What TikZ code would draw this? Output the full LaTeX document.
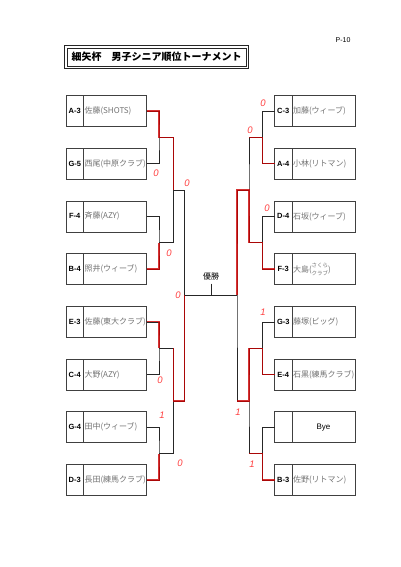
\documentclass[tikz,border=0pt]{standalone}
\usepackage{fontspec}
\setmainfont{Liberation Sans}
\newfontfamily\jp{Noto Sans CJK JP}
\usepackage{xcolor}
\usetikzlibrary{positioning,calc}

\begin{document}
\begin{tikzpicture}[x=1pt,y=-1pt,
		seedbox/.style={draw=black!75,line width=0.5pt,minimum width=17.5pt,minimum height=31pt,inner sep=0pt,outer sep=0pt,font=\bfseries\fontsize{7.5}{8}\selectfont},
		entrant/.style={draw=black!75,line width=0.5pt,minimum width=63pt,minimum height=31pt,text width=61pt,inner xsep=1pt,inner ysep=0pt,outer sep=0pt,align=left,font=\jp\fontsize{8}{8}\selectfont,text=black!55},
		bline/.style={black!85,line width=0.6pt},
		rline/.style={red!80!black,line width=1.3pt,opacity=0.8},
		score/.style={text=red!75,font=\itshape\fontsize{9.5}{9.5}\selectfont,inner sep=0pt}]
		\useasboundingbox (0,0) rectangle (400,567);
		\fill[white] (0,0) rectangle (400,567);

		% title
		\node[minimum width=183pt,minimum height=22pt,inner sep=0pt,font=\jp\bfseries\fontsize{10}{10}\selectfont] (title) at (156.5,57) {細矢杯　男子シニア順位トーナメント};
		\draw[black!85,line width=0.9pt] (title.north west) rectangle (title.south east);
		\draw[black!85,line width=0.5pt] ($(title.north west)+(2,2)$) rectangle ($(title.south east)+(-2,-2)$);
		\node[font=\fontsize{7}{7}\selectfont] (page) at (343,40) {P-10};

		% left entrants
		\node[seedbox] (ls1) at (74.75,111) {A-3};
		\node[entrant,right=0pt of ls1] (l1) {\mbox{佐藤(SHOTS)}};
		\node[seedbox] (ls2) at (74.75,163.7) {G-5};
		\node[entrant,right=0pt of ls2] (l2) {\mbox{西尾(中原クラブ)}};
		\node[seedbox] (ls3) at (74.75,216.4) {F-4};
		\node[entrant,right=0pt of ls3] (l3) {\mbox{斉藤(AZY)}};
		\node[seedbox] (ls4) at (74.75,269.1) {B-4};
		\node[entrant,right=0pt of ls4] (l4) {\mbox{照井(ウィーブ)}};
		\node[seedbox] (ls5) at (74.75,321.8) {E-3};
		\node[entrant,right=0pt of ls5] (l5) {\mbox{佐藤(東大クラブ)}};
		\node[seedbox] (ls6) at (74.75,374.5) {C-4};
		\node[entrant,right=0pt of ls6] (l6) {\mbox{大野(AZY)}};
		\node[seedbox] (ls7) at (74.75,427.2) {G-4};
		\node[entrant,right=0pt of ls7] (l7) {\mbox{田中(ウィーブ)}};
		\node[seedbox] (ls8) at (74.75,479.9) {D-3};
		\node[entrant,right=0pt of ls8] (l8) {\mbox{長田(練馬クラブ)}};

		% right entrants
		\node[seedbox] (rs1) at (283.25,111) {C-3};
		\node[entrant,right=0pt of rs1] (r1) {\mbox{加藤(ウィーブ)}};
		\node[seedbox] (rs2) at (283.25,163.7) {A-4};
		\node[entrant,right=0pt of rs2] (r2) {\mbox{小林(リトマン)}};
		\node[seedbox] (rs3) at (283.25,216.4) {D-4};
		\node[entrant,right=0pt of rs3] (r3) {\mbox{石坂(ウィーブ)}};
		\node[seedbox] (rs4) at (283.25,269.1) {F-3};
		\node[entrant,right=0pt of rs4] (r4) {\mbox{大島(\raisebox{-2.6pt}{\fontsize{5.5}{6}\selectfont\shortstack{さくら\\クラブ}})}};
		\node[seedbox] (rs5) at (283.25,321.8) {G-3};
		\node[entrant,right=0pt of rs5] (r5) {\mbox{藤塚(ビッグ)}};
		\node[seedbox] (rs6) at (283.25,374.5) {E-4};
		\node[entrant,right=0pt of rs6] (r6) {\mbox{石黒(練馬クラブ)}};
		\node[seedbox] (rs7) at (283.25,427.2) {};
		\node[entrant,right=0pt of rs7,align=center,text=black,font=\fontsize{8}{8}\selectfont] (r7) {Bye};
		\node[seedbox] (rs8) at (283.25,479.9) {B-3};
		\node[entrant,right=0pt of rs8] (r8) {\mbox{佐野(リトマン)}};

		% bracket points
		\coordinate (la1) at ($(l1.east)!.5!(l2.east)+(12.5,0)$);
		\coordinate (la2) at ($(l3.east)!.5!(l4.east)+(12.5,0)$);
		\coordinate (la3) at ($(l5.east)!.5!(l6.east)+(12.5,0)$);
		\coordinate (la4) at ($(l7.east)!.5!(l8.east)+(12.5,0)$);
		\coordinate (lb1) at ($(la1)!.5!(la2)+(14.5,0)$);
		\coordinate (lb2) at ($(la3)!.5!(la4)+(14.5,0)$);
		\coordinate (lc) at ($(lb1)!.5!(lb2)+(11,0)$);
		\coordinate (ra1) at ($(rs1.west)!.5!(rs2.west)+(-12,0)$);
		\coordinate (ra2) at ($(rs3.west)!.5!(rs4.west)+(-12,0)$);
		\coordinate (ra3) at ($(rs5.west)!.5!(rs6.west)+(-12,0)$);
		\coordinate (ra4) at ($(rs7.west)!.5!(rs8.west)+(-12,0)$);
		\coordinate (rb1) at ($(ra1)!.5!(ra2)+(-13.5,0)$);
		\coordinate (rb2) at ($(ra3)!.5!(ra4)+(-13.5,0)$);
		\coordinate (rc) at ($(rb1)!.5!(rb2)+(-12,0)$);

		% black bracket
		\draw[bline] (l1.east) -| (la1) |- (l2.east);
		\draw[bline] (l3.east) -| (la2) |- (l4.east);
		\draw[bline] (l5.east) -| (la3) |- (l6.east);
		\draw[bline] (l7.east) -| (la4) |- (l8.east);
		\draw[bline] (la1) -| (lb1) |- (la2);
		\draw[bline] (la3) -| (lb2) |- (la4);
		\draw[bline] (lb1) -| (lc) |- (lb2);
		\draw[bline] (rs1.west) -| (ra1) |- (rs2.west);
		\draw[bline] (rs3.west) -| (ra2) |- (rs4.west);
		\draw[bline] (rs5.west) -| (ra3) |- (rs6.west);
		\draw[bline] (rs7.west) -| (ra4) |- (rs8.west);
		\draw[bline] (ra1) -| (rb1) |- (ra2);
		\draw[bline] (ra3) -| (rb2) |- (ra4);
		\draw[bline] (rb1) -| (rc) |- (rb2);
		\draw[bline] (lc) -- (lc -| rc);

		% final
		\node[font=\jp\fontsize{8}{8}\selectfont] (champ) at (211,276) {優勝};
		\coordinate (champtop) at (211,283.5);
		\draw[bline] (champtop) -- (champtop |- lc);

		% winners in red
		\draw[rline] (l1.east) -| (la1) -- (la1 -| lb1) -- (lb1);
		\draw[rline] (l4.east) -| (la2);
		\draw[rline] (l5.east) -| (la3);
		\draw[rline] (la3 -| lb2) -- (lb2) -- (lb2 -| lc) -- (lc);
		\draw[rline] (l8.east) -| (la4);
		\draw[rline] (rs2.west) -| (ra1) -- (ra1 -| rb1);
		\draw[rline] (rs4.west) -| (ra2) -- (ra2 -| rb1) -- (rb1) -- (rb1 -| rc) -- (rc);
		\draw[rline] (rs6.west) -| (ra3) -- (ra3 -| rb2) -- (rb2) -- (rb2 -| rc);
		\draw[rline] (rs8.west) -| (ra4) -- (ra4 -| rb2);

		% scores
		\node[score] (sl1) at (156,173) {0};
		\node[score] (sl2) at (187,183) {0};
		\node[score] (sl3) at (169,253) {0};
		\node[score] (sl4) at (178,295) {0};
		\node[score] (sl5) at (160,380) {0};
		\node[score] (sl6) at (162,415) {1};
		\node[score] (sl7) at (180,463) {0};
		\node[score] (sr1) at (263,103) {0};
		\node[score] (sr2) at (250,130) {0};
		\node[score] (sr3) at (267,208) {0};
		\node[score] (sr4) at (263,312) {1};
		\node[score] (sr5) at (238,412) {1};
		\node[score] (sr6) at (252,464) {1};
\end{tikzpicture}
\end{document}
